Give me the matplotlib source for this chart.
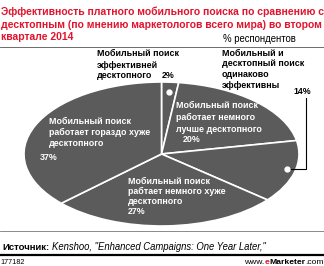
import matplotlib
matplotlib.use("Agg")
import matplotlib.pyplot as plt

plt.rcParams['font.family'] = ['Liberation Sans', 'DejaVu Sans']

W, H = 324, 266

# data
values = [2, 20, 14, 27, 37]
labels = [
    "Мобильный поиск\nэффективней\nдесктопного",
    "Мобильный поиск\nработает немного\nлучше десктопного",
    "Мобильный и\nдесктопный поиск\nодинаково\nэффективны",
    "Мобильный поиск\nрабтает немного хуже\nдесктопного",
    "Мобильный поиск\nработает гораздо хуже\nдесктопного",
]
title = ("Эффективность платного мобильного поиска по сравнению с\n"
         "десктопным (по мнению маркетологов всего мира) во втором\n"
         "квартале 2014")
source = 'Kenshoo, "Enhanced Campaigns: One Year Later,"'

RED = '#e2132c'
PIE = '#5b5b5b'


def fx(x):
    return x / W


def fy(y):
    return 1 - y / H


fig = plt.figure(figsize=(W / 100, H / 100), dpi=100)

# pie drawn as ellipse: axes box = ellipse bounding box
ax = fig.add_axes([fx(24), fy(226), (299 - 24) / W, (226 - 82) / H])
ax.pie(values, startangle=90, counterclock=False, colors=[PIE] * len(values),
       wedgeprops=dict(edgecolor='white', linewidth=1.2))
ax.set_aspect('auto')
ax.set_xlim(-1, 1)
ax.set_ylim(-1, 1)
ax.axis('off')


def put_lines(text, x, y0, step, **kw):
    for i, line in enumerate(text.split('\n')):
        fig.text(fx(x), fy(y0 + i * step), line, va='center', ha='left', **kw)


# title
put_lines(title, 1, 12, 12.5, fontsize=7.45, fontweight='bold', color=RED)
fig.text(fx(223), fy(39), "% респондентов", fontsize=6.9, va='center', ha='left')

# header / footer rules
fig.add_artist(plt.Line2D([0, 1], [fy(47), fy(47)], color='#555555', lw=0.6))
fig.add_artist(plt.Line2D([0, 1], [fy(231), fy(231)], color='#777777', lw=0.6))
fig.add_artist(plt.Line2D([0, 1], [fy(255), fy(255)], color='black', lw=1.6))

lab_kw = dict(fontsize=6.4, fontweight='bold')

# 2%
put_lines(labels[0], 97, 54, 11, color='black', **lab_kw)
fig.text(fx(162), fy(75), f"{values[0]}%", va='center', ha='left', color='black', **lab_kw)
fig.add_artist(plt.Line2D([fx(169)], [fy(92)], marker='o', ms=3.5, color='white', mec='white'))

# 20%
put_lines(labels[1], 176, 106, 11.5, color='white', **lab_kw)
fig.text(fx(183), fy(139), f"{values[1]}%", va='center', ha='left', color='white', **lab_kw)

# 14% (outside, with leader)
put_lines(labels[2], 222, 53, 10.8, color='black', **lab_kw)
fig.text(fx(293), fy(92), f"{values[2]}%", va='center', ha='left', color='black', **lab_kw)
fig.add_artist(plt.Line2D([fx(306), fx(306), fx(288)], [fy(98), fy(169), fy(169)],
                          color='black', lw=0.8))
fig.add_artist(plt.Line2D([fx(287)], [fy(169)], marker='o', ms=3.5, color='white', mec='white'))

# 27%
put_lines(labels[3], 128, 181, 10.5, color='white', **lab_kw)
fig.text(fx(128), fy(212), f"{values[3]}%", va='center', ha='left', color='white', **lab_kw)

# 37%
put_lines(labels[4], 49, 121, 11, color='white', **lab_kw)
fig.text(fx(40), fy(158), f"{values[4]}%", va='center', ha='left', color='white', **lab_kw)

# source
fig.text(fx(2), fy(247), "Источник:", fontsize=6.8, fontweight='bold', va='center', ha='left')
fig.text(fx(52), fy(247), source, fontsize=6.85, fontstyle='italic', va='center', ha='left')
fig.text(fx(0), fy(262), "177182", fontsize=5.2, va='center', ha='left')

# www.eMarketer.com, pieced together left to right
fig.canvas.draw()
r = fig.canvas.get_renderer()
x = 244
for part, kw in [("www.", {}),
                 ("e", dict(fontweight='bold', color=RED)),
                 ("Marketer", dict(fontweight='bold')),
                 (".com", {})]:
    t = fig.text(fx(x), fy(262), part, fontsize=6.1, va='center', ha='left', **kw)
    x = t.get_window_extent(r).x1

fig.savefig('out.png', dpi=100)
